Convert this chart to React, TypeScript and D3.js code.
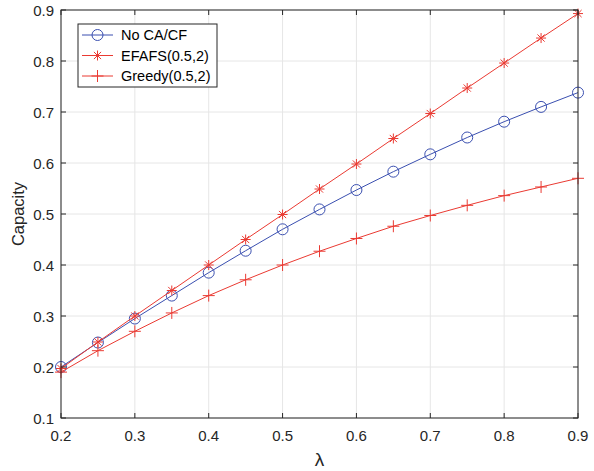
import React, { useEffect, useRef } from 'react';
import * as d3 from 'd3';

const lambdas = [0.2, 0.25, 0.3, 0.35, 0.4, 0.45, 0.5, 0.55, 0.6, 0.65, 0.7, 0.75, 0.8, 0.85, 0.9];
const noCACF = [0.2, 0.248, 0.295, 0.34, 0.385, 0.428, 0.47, 0.509, 0.547, 0.583, 0.617, 0.65, 0.681, 0.71, 0.738];
const efafs = [0.197, 0.249, 0.3, 0.35, 0.4, 0.45, 0.499, 0.549, 0.598, 0.648, 0.697, 0.747, 0.796, 0.845, 0.893];
const greedy = [0.19, 0.232, 0.27, 0.306, 0.34, 0.371, 0.4, 0.427, 0.452, 0.476, 0.497, 0.517, 0.536, 0.553, 0.57];
const xTicks = [0.2, 0.3, 0.4, 0.5, 0.6, 0.7, 0.8, 0.9];
const yTicks = [0.1, 0.2, 0.3, 0.4, 0.5, 0.6, 0.7, 0.8, 0.9];
const seriesNames = ['No CA/CF', 'EFAFS(0.5,2)', 'Greedy(0.5,2)'];

const BLUE = '#3a4fb0';
const RED = '#ea3a32';

const App = () => {
  const ref = useRef<SVGSVGElement>(null);

  useEffect(() => {
    const svg = d3.select(ref.current);
    svg.selectAll('*').remove();
    const left = 61, right = 578, top = 10, bottom = 418;
    const x = d3.scaleLinear().domain([0.2, 0.9]).range([left, right]);
    const y = d3.scaleLinear().domain([0.1, 0.9]).range([bottom, top]);
    const font = 'Liberation Sans, Arial, sans-serif';

    svg.append('rect').attr('x', 0).attr('y', 0).attr('width', 594).attr('height', 471).attr('fill', '#fff');

    // grid
    const g = svg.append('g');
    g.selectAll('.gx').data(xTicks).enter().append('line')
      .attr('x1', d => x(d)).attr('x2', d => x(d)).attr('y1', top).attr('y2', bottom)
      .attr('stroke', '#e6e6e6').attr('stroke-width', 1);
    g.selectAll('.gy').data(yTicks).enter().append('line')
      .attr('y1', d => y(d)).attr('y2', d => y(d)).attr('x1', left).attr('x2', right)
      .attr('stroke', '#e6e6e6').attr('stroke-width', 1);

    // series
    const series = [
      { vals: noCACF, color: BLUE, marker: 'circle' },
      { vals: efafs, color: RED, marker: 'star' },
      { vals: greedy, color: RED, marker: 'plus' },
    ];

    const drawMarker = (sel: any, type: string, color: string, cx: number, cy: number) => {
      if (type === 'circle') {
        sel.append('circle').attr('cx', cx).attr('cy', cy).attr('r', 5.5)
          .attr('fill', 'none').attr('stroke', color).attr('stroke-width', 1);
      } else if (type === 'star') {
        const s = 5;
        const d = 3.6;
        sel.append('path')
          .attr('d', `M${cx - s},${cy}H${cx + s}M${cx},${cy - s}V${cy + s}M${cx - d},${cy - d}L${cx + d},${cy + d}M${cx - d},${cy + d}L${cx + d},${cy - d}`)
          .attr('stroke', color).attr('stroke-width', 1).attr('fill', 'none');
      } else {
        const s = 6;
        sel.append('path')
          .attr('d', `M${cx - s},${cy}H${cx + s}M${cx},${cy - s}V${cy + s}`)
          .attr('stroke', color).attr('stroke-width', 1).attr('fill', 'none');
      }
    };

    series.forEach(s => {
      const line = d3.line<number>().x((_, i) => x(lambdas[i])).y(d => y(d));
      svg.append('path').datum(s.vals).attr('d', line)
        .attr('fill', 'none').attr('stroke', s.color).attr('stroke-width', 1);
      const mg = svg.append('g');
      s.vals.forEach((v, i) => drawMarker(mg, s.marker, s.color, x(lambdas[i]), y(v)));
    });

    // axes box
    svg.append('rect').attr('x', left).attr('y', top).attr('width', right - left).attr('height', bottom - top)
      .attr('fill', 'none').attr('stroke', '#262626').attr('stroke-width', 1);

    const ticks = svg.append('g').attr('stroke', '#262626').attr('stroke-width', 1);
    xTicks.forEach(t => {
      ticks.append('line').attr('x1', x(t)).attr('x2', x(t)).attr('y1', bottom).attr('y2', bottom - 5);
      ticks.append('line').attr('x1', x(t)).attr('x2', x(t)).attr('y1', top).attr('y2', top + 5);
    });
    yTicks.forEach(t => {
      ticks.append('line').attr('y1', y(t)).attr('y2', y(t)).attr('x1', left).attr('x2', left + 5);
      ticks.append('line').attr('y1', y(t)).attr('y2', y(t)).attr('x1', right).attr('x2', right - 5);
    });

    svg.selectAll('.xl').data(xTicks).enter().append('text')
      .attr('x', d => x(d)).attr('y', 441).attr('text-anchor', 'middle')
      .attr('font-family', font).attr('font-size', 15).attr('fill', '#262626')
      .text(d => d3.format('.1f')(d));
    svg.selectAll('.yl').data(yTicks).enter().append('text')
      .attr('x', left - 7).attr('y', d => y(d) + 5.5).attr('text-anchor', 'end')
      .attr('font-family', font).attr('font-size', 15).attr('fill', '#262626')
      .text(d => d3.format('.1f')(d));

    svg.append('text').attr('x', x(0.55)).attr('y', 466).attr('text-anchor', 'middle')
      .attr('font-family', font).attr('font-size', 19).attr('fill', '#262626').text('λ');
    svg.append('text').attr('transform', `translate(24,${(top + bottom) / 2}) rotate(-90)`)
      .attr('text-anchor', 'middle')
      .attr('font-family', font).attr('font-size', 16.5).attr('fill', '#262626').text('Capacity');

    // legend
    const lg = svg.append('g');
    lg.append('rect').attr('x', 78).attr('y', 24).attr('width', 139).attr('height', 63)
      .attr('fill', '#fff').attr('stroke', '#262626').attr('stroke-width', 1);
    seriesNames.forEach((name, i) => {
      const cy = 35 + i * 20.5;
      const s = series[i];
      lg.append('line').attr('x1', 82).attr('x2', 113).attr('y1', cy).attr('y2', cy)
        .attr('stroke', s.color).attr('stroke-width', 1);
      drawMarker(lg, s.marker, s.color, 97.5, cy);
      lg.append('text').attr('x', 121).attr('y', cy + 5)
        .attr('font-family', font).attr('font-size', 14.5).attr('fill', '#000').text(name);
    });
  }, []);

  return (
    <svg ref={ref} width={594} height={471} style={{ display: 'block', position: 'absolute', left: 0, top: 0 }} />
  );
};

export default App;
